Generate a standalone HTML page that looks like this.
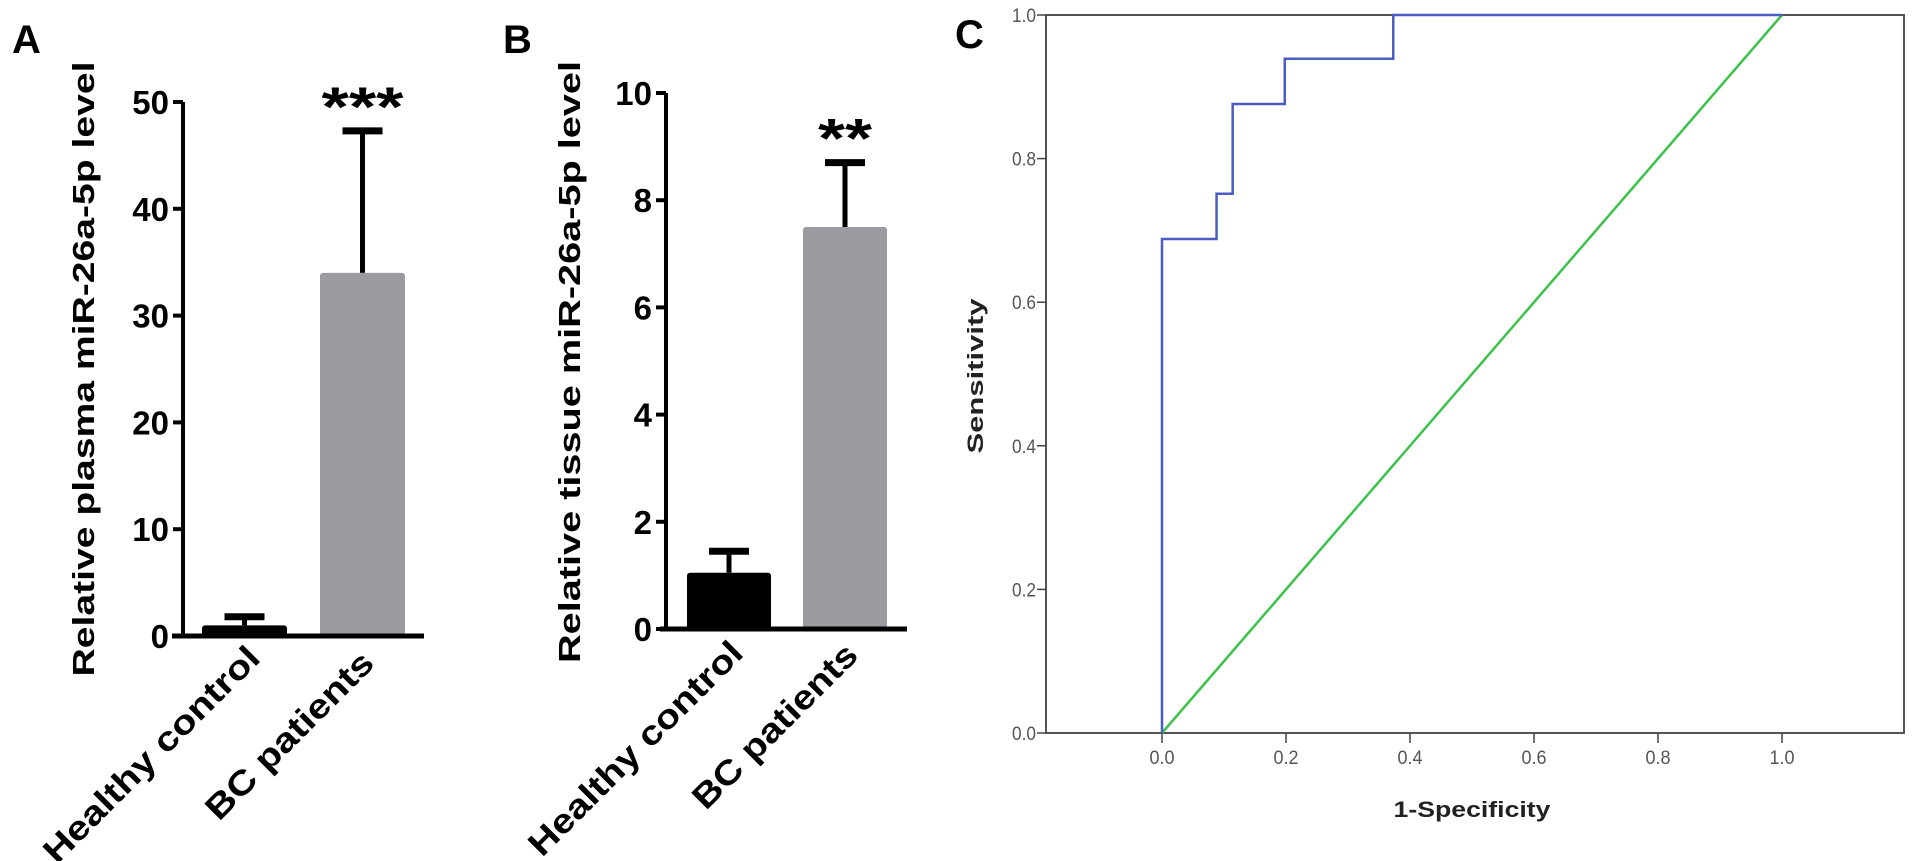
<!DOCTYPE html>
<html><head><meta charset="utf-8"><style>
html,body{margin:0;padding:0;background:#fff}
svg{display:block}
text{font-family:"Liberation Sans",Arial,sans-serif}
</style></head><body>
<svg id="fig" width="1913" height="861" viewBox="0 0 1913 861">
<text x="12" y="53" font-size="40" font-weight="bold">A</text>
<text x="503" y="53" font-size="40" font-weight="bold">B</text>
<text x="955" y="48" font-size="40" font-weight="bold">C</text>
</svg>
<script>
const NS="http://www.w3.org/2000/svg";
const svg=document.getElementById('fig');
function mk(tag,attrs,parent){const e=document.createElementNS(NS,tag);for(const k in attrs)e.setAttribute(k,attrs[k]);(parent||svg).appendChild(e);return e;}

// ---- Panel A data ----
const aCategories=["Healthy control","BC patients"];
const aMeans=[1,34];
const aErrors=[0.8,13.3];
const aTicks=[0,10,20,30,40,50];
const aStars="***";
// ---- Panel B data ----
const bCategories=["Healthy control","BC patients"];
const bMeans=[1.05,7.5];
const bErrors=[0.4,1.2];
const bTicks=[0,2,4,6,8,10];
const bStars="**";
// ---- Panel C data ----
const rocFpr=[0,0,0.088,0.088,0.114,0.114,0.198,0.198,0.373,0.373,1];
const rocTpr=[0,0.688,0.688,0.751,0.751,0.876,0.876,0.939,0.939,1,1];
const refLine=[0,1];
const cTicks=[0,0.2,0.4,0.6,0.8,1.0];

function barPanel(p){
  const g=mk('g',{});
  
  
  const y=v=>p.y0-(v-p.min)/(p.max-p.min)*(p.y0-p.y1);
  const ax=mk('line',{x1:p.ax,y1:y(p.max),x2:p.ax,y2:p.y0+2,stroke:'#000','stroke-width':4},g);
  
  
  p.ticks.forEach(t=>{
    const tl=mk('line',{x1:p.ax-10,y1:y(t),x2:p.ax,y2:y(t),stroke:'#000','stroke-width':4},g);
    
    
    const tx=mk('text',{x:p.ax-14,y:y(t)+12,'text-anchor':'end','font-size':33,'font-weight':'bold'},g);
    tx.textContent=t;
    
    
  });
  p.means.forEach((m,i)=>{
    const x=p.bx[i];
    const e=mk('line',{x1:x+p.bw/2,y1:y(m),x2:x+p.bw/2,y2:y(m+p.errs[i]),stroke:'#000','stroke-width':5},g);
    
    
    const cap=mk('line',{x1:x+p.bw/2-20,y1:y(m+p.errs[i]),x2:x+p.bw/2+20,y2:y(m+p.errs[i]),stroke:'#000','stroke-width':7},g);
    
    
    const r=mk('rect',{x:x,y:y(m),width:p.bw,height:y(0)-y(m),fill:i==0?'#000':'#9b9ba1',rx:3},g);
    
    
    const lab=mk('text',{x:0,y:0,'text-anchor':'end','font-size':34,'font-weight':'bold',textLength:p.lLen[i],lengthAdjust:'spacingAndGlyphs',transform:`translate(${p.lx[i]},${p.ly[i]}) rotate(-45)`},g);
    lab.textContent=p.cats[i];
    
    
  });
  const base=mk('line',{x1:p.bx0,y1:p.y0,x2:p.bx1,y2:p.y0,stroke:'#000','stroke-width':5},g);
  
  
  const st=mk('text',{x:p.bx[1]+p.bw/2,y:y(p.means[1]+p.errs[1])-p.sOff,'text-anchor':'middle','font-size':56,'font-weight':'bold',textLength:p.sLen,lengthAdjust:'spacingAndGlyphs'},g);
  st.textContent=p.stars;
  
  
  const t=mk('text',{x:0,y:0,'text-anchor':'middle','font-size':31,'font-weight':'bold',textLength:p.tLen,lengthAdjust:'spacingAndGlyphs',transform:`translate(${p.tx},${p.ty}) rotate(-90)`},g);
  t.textContent=p.title;
  
  
}
barPanel({id:'panel-a',min:0,max:50,y0:636,y1:102,ax:183,ticks:aTicks,means:aMeans,errs:aErrors,cats:aCategories,
  bx:[202,320],bw:85,lx:[262,376],ly:[660,665],lLen:[290,222],bx0:172,bx1:424,stars:aStars,sOff:5,sLen:82,
  title:"Relative plasma miR-26a-5p level",tx:94,ty:369,tLen:615});
barPanel({id:'panel-b',min:0,max:10,y0:629,y1:93,ax:666,ticks:bTicks,means:bMeans,errs:bErrors,cats:bCategories,
  bx:[687,803],bw:84,lx:[745,860],ly:[655,657],lLen:[287,218],bx0:660,bx1:907,stars:bStars,sOff:5,sLen:54,
  title:"Relative tissue miR-26a-5p level",tx:580,ty:362,tLen:602});

// ---- Panel C ----
(function(){
  const L=1046,R=1904,T=15,B=733,X0=1162,X1=1782;
  const x=v=>X0+v*(X1-X0), y=v=>B-v*(B-T);
  const g=mk('g',{});
  
  
  const box=mk('rect',{x:L,y:T,width:R-L,height:B-T,fill:'none',stroke:'#555','stroke-width':2},g);
  
  
  cTicks.forEach(t=>{
    const a=mk('line',{x1:L-9,y1:y(t),x2:L,y2:y(t),stroke:'#444','stroke-width':1.5},g);
    
    
    const ty=mk('text',{x:L-10,y:y(t)+7,'text-anchor':'end','font-size':19,fill:'#555',textLength:24,lengthAdjust:'spacingAndGlyphs'},g);
    ty.textContent=t.toFixed(1);
    
    
    const b=mk('line',{x1:x(t),y1:B,x2:x(t),y2:B+10,stroke:'#444','stroke-width':1.5},g);
    
    
    const tx=mk('text',{x:x(t),y:B+31,'text-anchor':'middle','font-size':19,fill:'#555',textLength:25,lengthAdjust:'spacingAndGlyphs'},g);
    tx.textContent=t.toFixed(1);
    
    
  });
  const ref=mk('line',{x1:x(refLine[0]),y1:y(refLine[0]),x2:x(refLine[1]),y2:y(refLine[1]),stroke:'#3cc24a','stroke-width':2.5},g);
  
  
  const pts=rocFpr.map((f,i)=>x(f)+','+y(rocTpr[i])).join(' ');
  const roc=mk('polyline',{points:pts,fill:'none',stroke:'#4a5dc4','stroke-width':2.5},g);
  
  
  const yt=mk('text',{x:0,y:0,'text-anchor':'middle','font-size':22,'font-weight':'bold',fill:'#222',textLength:155,lengthAdjust:'spacingAndGlyphs',transform:`translate(983,376) rotate(-90)`},g);
  yt.textContent='Sensitivity';
  
  
  const xt=mk('text',{x:1472,y:817,'text-anchor':'middle','font-size':22,'font-weight':'bold',fill:'#222',textLength:157,lengthAdjust:'spacingAndGlyphs'},g);
  xt.textContent='1-Specificity';
  
  
})();
</script>
</body></html>
